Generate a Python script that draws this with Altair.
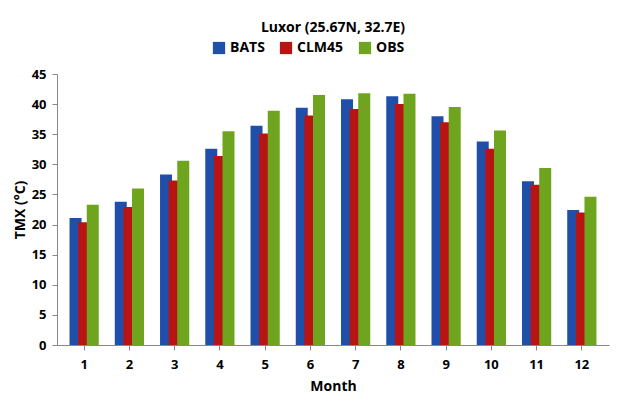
import pandas as pd
import altair as alt

months = list(range(1, 13))
bats = [21.1, 23.8, 28.3, 32.6, 36.4, 39.4, 40.8, 41.3, 38.0, 33.8, 27.2, 22.4]
clm45 = [20.4, 22.9, 27.3, 31.4, 35.1, 38.1, 39.2, 40.0, 37.0, 32.6, 26.6, 22.0]
obs = [23.3, 26.0, 30.6, 35.5, 38.9, 41.5, 41.8, 41.7, 39.5, 35.6, 29.4, 24.6]

series = {"BATS": bats, "CLM45": clm45, "OBS": obs}
rows = []
for name, vals in series.items():
    for m, v in zip(months, vals):
        rows.append({"month": m, "model": name, "tmx": v})
df = pd.DataFrame(rows)

order = ["BATS", "CLM45", "OBS"]
colors = ["#1F4FA8", "#B81414", "#6FA51E"]

chart = alt.Chart(df).mark_bar(size=12).encode(
    x=alt.X("month:O", title="Month",
            axis=alt.Axis(labelAngle=0, labelFontWeight="bold", labelFontSize=13,
                          titleFontSize=14, titleFontWeight="bold", ticks=True,
                          domainColor="#888", tickColor="#888", labelPadding=8, titlePadding=8)),
    xOffset=alt.XOffset("model:N", sort=order, scale=alt.Scale(paddingInner=0, paddingOuter=0.6)),
    y=alt.Y("tmx:Q", title="TMX (°C)",
            scale=alt.Scale(domain=[0, 45]),
            axis=alt.Axis(values=list(range(0, 46, 5)), grid=False,
                          labelFontWeight="bold", labelFontSize=13,
                          titleFontSize=14, titleFontWeight="bold",
                          domainColor="#888", tickColor="#888", labelPadding=6)),
    color=alt.Color("model:N", sort=order,
                    scale=alt.Scale(domain=order, range=colors),
                    legend=alt.Legend(orient="none", legendX=155, legendY=-33,
                                      title=None, direction="horizontal",
                                      symbolType="square", symbolSize=150,
                                      labelFontSize=14, labelFontWeight="bold",
                                      columnPadding=14)),
).properties(
    width=552, height=271,
    padding={"top": 13, "left": 5, "right": 5, "bottom": 5},
    title=alt.TitleParams("Luxor (25.67N, 32.7E)", fontSize=14, fontWeight="bold", offset=6),
).configure(font="Open Sans").configure_view(stroke=None).configure_scale(bandPaddingInner=0.3)

chart.save("out.html", embed_options={"renderer": "svg", "actions": False})
